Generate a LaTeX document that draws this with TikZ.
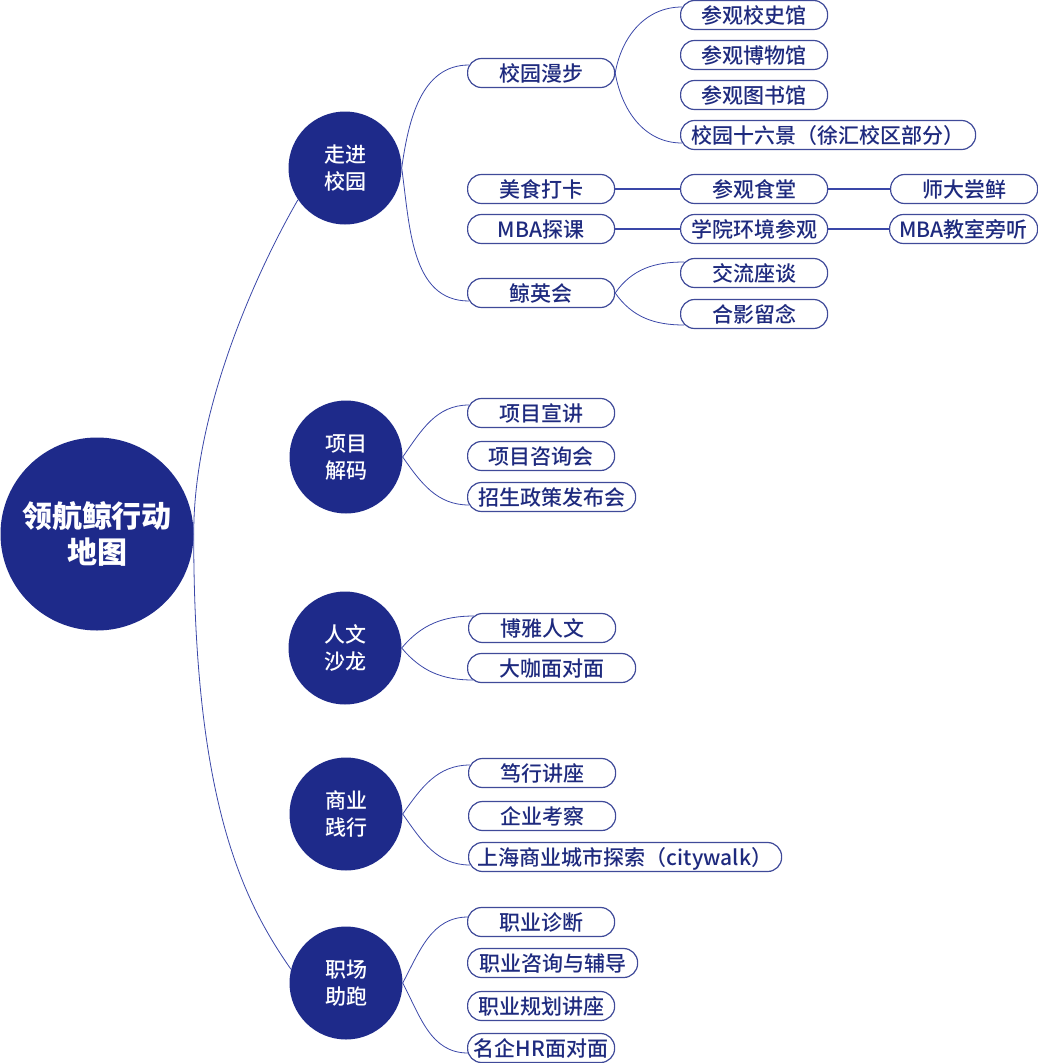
\documentclass[tikz,border=0pt]{standalone}
\usepackage{fontspec}
\setmainfont{Noto Sans CJK SC}
\newfontfamily\midfont{Noto Sans CJK SC Medium}
\usetikzlibrary{positioning}
\definecolor{navy}{HTML}{1E2A8A}
\definecolor{ink}{HTML}{1E2A7E}
\definecolor{rim}{HTML}{3F4A99}
\definecolor{wire}{HTML}{3A47A8}
\tikzset{
  hub/.style={circle, fill=navy, text=white, inner sep=0pt, minimum size=113pt, align=center, font=\midfont\fontsize{21}{27}\selectfont},
  leaf/.style={draw=rim, line width=1.2pt, rounded corners=14pt, minimum width=147pt, minimum height=29pt, inner xsep=2pt, inner ysep=0pt, text height=17pt, text depth=1pt, anchor=west, text=ink, font=\midfont\fontsize{21}{25}\selectfont},
  twig/.style={draw=wire, line width=0.8pt},
  bar/.style={draw=wire, line width=1.5pt}
}
\begin{document}
\begin{tikzpicture}[x=1pt, y=1pt]
        \useasboundingbox (0,0) rectangle (1038,-1063);

        % Define center points
        \node[hub, minimum size=193pt, font=\bfseries\fontsize{30}{36}\selectfont] (root) at (97,-534) {领航鲸行动\\地图};
        \node[hub] (walk) at (345,-168) {走进\\校园};
        \node[hub] (decode) at (346,-457) {项目\\解码};
        \node[hub] (salon) at (345,-648) {人文\\沙龙};
        \node[hub] (biz) at (346,-814) {商业\\践行};
        \node[hub] (career) at (346,-983) {职场\\助跑};

        \node[leaf] (tour) at (467,-73) {校园漫步};
        \node[leaf] (food) at (467,-189) {美食打卡};
        \node[leaf] (mbaclass) at (467,-229) {MBA探课};
        \node[leaf] (meet) at (467,-293) {鲸英会};
        \node[leaf] (history) at (680,-15) {参观校史馆};
        \node[leaf] (museum) at (680,-55) {参观博物馆};
        \node[leaf] (library) at (680,-95) {参观图书馆};
        \node[leaf, minimum width=295pt] (scenery) at (680,-135) {校园十六景（徐汇校区部分）};
        \node[leaf] (canteen) at (680,-189) {参观食堂};
        \node[leaf] (campus) at (680,-229) {学院环境参观};
        \node[leaf] (taste) at (890,-189) {师大尝鲜};
        \node[leaf, minimum width=148pt] (audit) at (889,-229) {MBA教室旁听};
        \node[leaf] (talk) at (680,-273) {交流座谈};
        \node[leaf] (photo) at (680,-314) {合影留念};

        \node[leaf] (lecture) at (467,-413) {项目宣讲};
        \node[leaf] (consult) at (467,-456) {项目咨询会};
        \node[leaf, minimum width=168pt] (policy) at (467,-497) {招生政策发布会};

        \node[leaf] (humanity) at (468,-628) {博雅人文};
        \node[leaf, minimum width=168pt] (guest) at (467,-668) {大咖面对面};

        \node[leaf] (forum) at (468,-773) {笃行讲座};
        \node[leaf] (visit) at (468,-816) {企业考察};
        \node[leaf, minimum width=313pt] (citywalk) at (468,-857) {上海商业城市探索（citywalk）};

        \node[leaf] (diagnose) at (467,-922) {职业诊断};
        \node[leaf, minimum width=170pt] (coach) at (467,-963) {职业咨询与辅导};
        \node[leaf] (plan) at (467,-1006) {职业规划讲座};
        \node[leaf] (hr) at (467,-1048) {名企HR面对面};

        % main branches
        \draw[twig] (root.east) .. controls +(0,134) and +(-32,-55) .. (walk.214);
        \draw[twig] (root.east) .. controls +(0,-266) and +(-49,70) .. (career.166);

        % branches meet the rounded left end of the outer boxes
        \draw[twig] (walk.east) to[out=82,in=180] ([shift={(2pt,8pt)}]tour.west);
        \draw[twig] (walk.east) to[out=-82,in=180] ([shift={(2pt,-8pt)}]meet.west);
        \draw[twig] (tour.east) to[out=80,in=180] ([shift={(2pt,8pt)}]history.west);
        \draw[twig] (tour.east) to[out=-80,in=180] ([shift={(2pt,-8pt)}]scenery.west);
        \draw[twig] (meet.east) to[out=55,in=180] ([shift={(4pt,11pt)}]talk.west);
        \draw[twig] (meet.east) to[out=-55,in=180] ([shift={(4pt,-11pt)}]photo.west);
        \draw[bar] (food) -- (canteen) -- (taste);
        \draw[bar] (mbaclass) -- (campus) -- (audit);

        \draw[twig] (decode.east) to[out=55,in=180] ([shift={(2pt,8pt)}]lecture.west);
        \draw[twig] (decode.east) to[out=-55,in=180] ([shift={(2pt,-8pt)}]policy.west);
        \draw[twig] (salon.east) to[out=50,in=180] ([shift={(6pt,12pt)}]humanity.west);
        \draw[twig] (salon.east) to[out=-50,in=180] ([shift={(6pt,-12pt)}]guest.west);
        \draw[twig] (biz.east) to[out=55,in=180] ([shift={(2pt,8pt)}]forum.west);
        \draw[twig] (biz.east) to[out=-55,in=180] ([shift={(2pt,-8pt)}]citywalk.west);
        \draw[twig] (career.east) to[out=62,in=180] ([shift={(1pt,5pt)}]diagnose.west);
        \draw[twig] (career.east) to[out=-62,in=180] ([shift={(1pt,-5pt)}]hr.west);
    \end{tikzpicture}
\end{document}
